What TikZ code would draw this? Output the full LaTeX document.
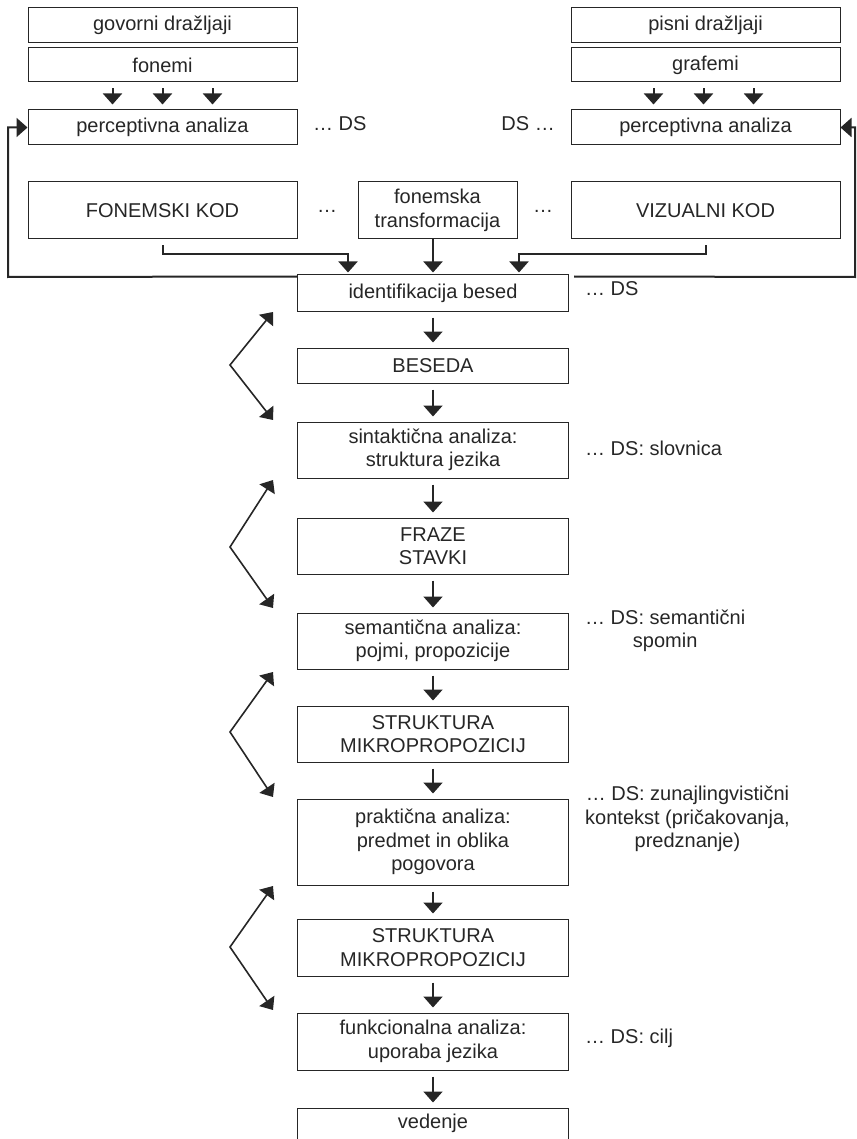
\documentclass[tikz,border=0pt]{standalone}
\usepackage{fontspec}
\setmainfont{Liberation Sans}
\usepackage{tikz}
\usetikzlibrary{arrows.meta}
\usetikzlibrary{positioning}
\tikzset{
    mybox/.style = {rectangle, draw=black!85, line width=1pt, align=center, inner sep=0pt, minimum width=271, minimum height=35},
    mylabel/.style = {align=center, inner sep=0pt, text height=0.72em, text depth=0.22em},
}

\begin{document}
\begin{tikzpicture}[
	x=1pt, y=-1pt,
	font=\fontsize{20}{23.5}\selectfont,
	color=black!85
]
\tikzset{
    edgea/.style = {line width=2pt, -{Triangle[width=19pt,length=11pt]}, shorten <=6pt, shorten >=5pt},
    edges/.style = {line width=2pt, -{Triangle[width=19pt,length=11pt]}, shorten >=2pt},
    edgez/.style = {line width=1.6pt, {Triangle[width=18pt,length=11pt]}-{Triangle[width=18pt,length=11pt]}},
    edgef/.style = {line width=2pt, -{Triangle[width=19pt,length=11pt]}},
}
\useasboundingbox (0,0) rectangle (856,1139);
% vhod: govor in pisava
\node[mybox, minimum width=269] at (162.5,25.5) (govL) {govorni dražljaji};
\node[mybox, minimum width=269, minimum height=34] at (162.5,65) (fonL) {fonemi};
\node[mybox, minimum width=269] at (162.5,127.5) (percL) {perceptivna analiza};
\node[mybox, minimum width=269] at (705.5,25.5) (govR) {pisni dražljaji};
\node[mybox, minimum width=269, minimum height=34] at (705.5,65) (grafR) {grafemi};
\node[mybox, minimum width=269] at (705.5,127.5) (percR) {perceptivna analiza};
\node[mylabel, anchor=west] at (313,128) (dsL) {… DS};
\node[mylabel, anchor=east] at (555,128) (dsR) {DS …};
%
\node[mybox, minimum width=269, minimum height=57] at (162.5,210.5) (fkod) {FONEMSKI KOD};
\node[mybox, minimum width=159, minimum height=57] at (437.5,210.5) (trans) {fonemska\\transformacija};
\node[mybox, minimum width=269, minimum height=57] at (705.5,210.5) (vkod) {VIZUALNI KOD};
\node[mylabel] at (327,210) (dotsL) {…};
\node[mylabel] at (543,210) (dotsR) {…};
% glavni stolpec
\node[mybox, minimum height=36] at (433,293) (ident) {identifikacija besed};
\node[mybox] at (433,365.5) (bes) {BESEDA};
\node[mybox, minimum height=56] at (433,450) (sint) {sintaktična analiza:\\struktura jezika};
\node[mybox, minimum height=56] at (433,546) (fraze) {FRAZE\\STAVKI};
\node[mybox, minimum height=56] at (433,641) (sem) {semantična analiza:\\pojmi, propozicije};
\node[mybox, minimum height=56] at (433,734) (strA) {STRUKTURA\\MIKROPROPOZICIJ};
\node[mybox, minimum height=86] at (433,842) (prakt) {praktična analiza:\\predmet in oblika\\pogovora};
\node[mybox, minimum height=57] at (433,947.5) (strB) {STRUKTURA\\MIKROPROPOZICIJ};
\node[mybox, minimum height=57] at (433,1041.5) (funk) {funkcionalna analiza:\\uporaba jezika};
\node[mybox, minimum height=31] at (433,1123.5) (ved) {vedenje};
% DS oznake
\node[mylabel, anchor=west] at (585,293) (dsA) {… DS};
\node[mylabel, anchor=west] at (585,453) (dsB) {… DS: slovnica};
\node[mylabel, anchor=west] at (585,645) (dsC) {… DS: semantični\\spomin};
\node[mylabel, anchor=west] at (585,845) (dsD) {… DS: zunajlingvistični\\kontekst (pričakovanja,\\predznanje)};
\node[mylabel, anchor=west] at (585,1041) (dsE) {… DS: cilj};
%
\foreach \dx in {-50,0,50}
    \draw[edgea] ([xshift=\dx pt]fonL.south) -- ([xshift=\dx pt]percL.north);
\foreach \dx in {-52,-2,48}
    \draw[edgea] ([xshift=\dx pt]grafR.south) -- ([xshift=\dx pt]percR.north);
%
\coordinate (kL) at (348,254);
\coordinate (kR) at (519,254);
\draw[edges] ([yshift=-6pt]fkod.south) |- (kL) -- (kL |- ident.north);
\draw[edges] ([yshift=-6pt]vkod.south) |- (kR) -- (kR |- ident.north);
\draw[edges, shorten <=0pt] (trans.south -| ident.north) -- (ident.north);
% povratne puscice
\coordinate (fbL) at (8,277);
\coordinate (fbR) at (855,277);
\draw[edgef] ([yshift=-2pt]ident.north west) -- (fbL) |- (percL.west);
\draw[edgef] ([xshift=5pt,yshift=-2pt]ident.north east) -- (fbR) |- (percR.east);
%
\draw[edgea] (ident) -- (bes);
\draw[edgea] (bes) -- (sint);
\draw[edgea] (sint) -- (fraze);
\draw[edgea] (fraze) -- (sem);
\draw[edgea] (sem) -- (strA);
\draw[edgea] (strA) -- (prakt);
\draw[edgea] (prakt) -- (strB);
\draw[edgea] (strB) -- (funk);
\draw[edgea] (funk) -- (ved);
% cikcak puscice
\foreach \i/\ya/\yb/\yc in {1/312/365/420, 2/480/547/608, 3/672/732/797, 4/886/947/1010}{
    \coordinate (zt\i) at (273,\ya);
    \coordinate (zm\i) at (230,\yb);
    \coordinate (zb\i) at (273,\yc);
    \draw[edgez] (zt\i) -- (zm\i) -- (zb\i);
}
\end{tikzpicture}
\end{document}
